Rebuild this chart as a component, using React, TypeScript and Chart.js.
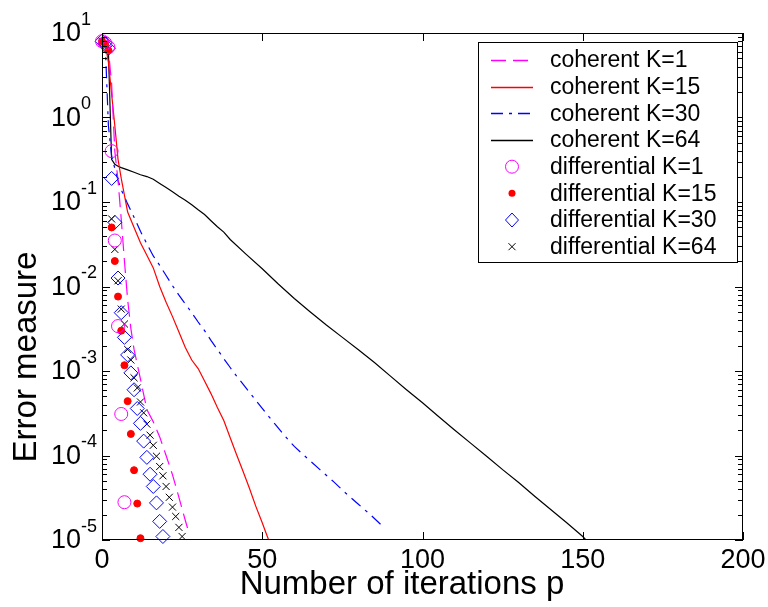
import React, { useEffect, useRef } from "react";
import { Chart, registerables } from "chart.js";

Chart.register(...registerables);

// ---------- data ----------
const xTickValues = [0, 50, 100, 150, 200];
const yDecades = [-5, -4, -3, -2, -1, 0, 1];
const xTitle = "Number of iterations p";
const yTitle = "Error measure";

const iterCohK1 = [0, 1, 2, 3, 4, 5, 6, 7, 8, 9, 10, 11, 12, 14, 16, 18, 20, 22, 24, 26, 27];
const errCohK1 = [8.0, 7.6, 6.3, 2.5, 0.4, 0.18, 0.063, 0.02, 0.007, 0.0032, 0.0018, 0.0012, 8e-4, 3.5e-4, 2.5e-4, 1.66e-4, 1.0e-4, 5.9e-5, 3.2e-5, 1.7e-5, 1.26e-5];

const iterCohK15 = [0, 1, 2, 3, 4, 5, 6, 8, 10, 12, 14, 16, 18, 20, 22, 24, 26, 28, 30, 32, 34, 36, 38, 40, 42, 44, 46, 48, 50, 51, 52];
const errCohK15 = [8.0, 7.6, 4.5, 1.9, 0.8, 0.32, 0.19, 0.076, 0.05, 0.033, 0.0234, 0.0166, 0.01, 0.0065, 0.0044, 0.0029, 0.0019, 0.00135, 0.00107, 7.6e-4, 5.4e-4, 3.7e-4, 2.6e-4, 1.62e-4, 1.02e-4, 6.5e-5, 4.1e-5, 2.5e-5, 1.6e-5, 1.26e-5, 1.0e-5];

const iterCohK30 = [0, 1, 2, 3, 4, 5, 6, 8, 10, 12, 14, 16, 18, 20, 22, 24, 26, 28, 30, 32, 34, 36, 38, 40, 42, 44, 46, 48, 50, 52, 54, 56, 58, 60, 64, 68, 72, 76, 80, 84, 88];
const errCohK30 = [8.0, 7.6, 0.8, 0.35, 0.25, 0.18, 0.14, 0.095, 0.066, 0.045, 0.032, 0.023, 0.0178, 0.0135, 0.0102, 0.0079, 0.0062, 0.0049, 0.0038, 0.003, 0.0023, 0.0018, 0.0014, 0.0011, 8.7e-4, 7.0e-4, 5.6e-4, 4.5e-4, 3.6e-4, 2.9e-4, 2.35e-4, 1.9e-4, 1.55e-4, 1.28e-4, 9.3e-5, 6.8e-5, 5.0e-5, 3.6e-5, 2.65e-5, 1.95e-5, 1.4e-5];

const iterCohK64 = [0, 1, 2, 3, 4, 5, 6, 8, 10, 12, 14, 16, 18, 20, 22, 24, 26, 28, 30, 32, 34, 36, 38, 40, 45, 50, 55, 60, 65, 70, 75, 80, 85, 90, 95, 100, 105, 110, 115, 120, 125, 130, 135, 140, 145, 150, 151];
const errCohK64 = [8.0, 7.8, 6.0, 0.32, 0.28, 0.265, 0.255, 0.24, 0.225, 0.21, 0.2, 0.186, 0.166, 0.148, 0.132, 0.117, 0.105, 0.093, 0.081, 0.071, 0.06, 0.051, 0.044, 0.036, 0.024, 0.0162, 0.0107, 0.0072, 0.0050, 0.0035, 0.0025, 0.00178, 0.00126, 8.7e-4, 6.0e-4, 4.2e-4, 2.9e-4, 2.0e-4, 1.4e-4, 9.8e-5, 6.8e-5, 4.8e-5, 3.3e-5, 2.3e-5, 1.6e-5, 1.1e-5, 1.0e-5];

const iterDiffK1 = [0, 1, 2, 3, 4, 5, 6, 7];
const errDiffK1 = [8.0, 7.6, 6.8, 0.4, 0.035, 0.0034, 3.1e-4, 2.8e-5];

const iterDiffK15 = [0, 1, 2, 3, 4, 5, 6, 7, 8, 9, 10, 11, 12];
const errDiffK15 = [8.0, 7.4, 6.2, 0.05, 0.02, 0.0076, 0.003, 0.00117, 4.4e-4, 1.8e-4, 6.7e-5, 2.7e-5, 1.05e-5];

const iterDiffK30 = [0, 1, 2, 3, 4, 5, 6, 7, 8, 9, 10, 11, 12, 13, 14, 15, 16, 17, 18, 19];
const errDiffK30 = [8.0, 7.6, 6.6, 0.19, 0.0575, 0.0126, 0.0049, 0.0025, 0.00155, 9.5e-4, 6.0e-4, 3.6e-4, 2.4e-4, 1.48e-4, 9.5e-5, 6.0e-5, 4.3e-5, 2.75e-5, 1.66e-5, 1.1e-5];

const iterDiffK64 = [0, 1, 2, 3, 4, 5, 6, 7, 8, 9, 10, 11, 12, 13, 14, 15, 16, 17, 18, 19, 20, 21, 22, 23, 24, 25];
const errDiffK64 = [8.0, 7.5, 6.4, 0.063, 0.0275, 0.0117, 0.0054, 0.0036, 0.0018, 0.00135, 8.3e-4, 6.3e-4, 4.3e-4, 3.2e-4, 2.35e-4, 1.74e-4, 1.32e-4, 9.8e-5, 7.4e-5, 5.75e-5, 4.3e-5, 3.2e-5, 2.45e-5, 1.9e-5, 1.41e-5, 1.1e-5];

const seriesLabels = [
  "coherent K=1",
  "coherent K=15",
  "coherent K=30",
  "coherent K=64",
  "differential K=1",
  "differential K=15",
  "differential K=30",
  "differential K=64",
];

// ---------- styling ----------
const FONT = "'Liberation Sans', Arial, Helvetica, sans-serif";
const TICK_SIZE = 27;
const SUP_SIZE = 18;
const TITLE_SIZE = 33;
const LEGEND_SIZE = 23;

const toPts = (xs: number[], ys: number[]) => xs.map((x, i) => ({ x, y: ys[i] }));

type LegendStyle = { kind: "line" | "marker"; color: string; dash: number[]; marker: string };
const legendStyles: LegendStyle[] = [
  { kind: "line", color: "#FF00FF", dash: [15, 7], marker: "" },
  { kind: "line", color: "#FF0000", dash: [], marker: "" },
  { kind: "line", color: "#0000FF", dash: [12, 6, 3, 6], marker: "" },
  { kind: "line", color: "#000000", dash: [], marker: "" },
  { kind: "marker", color: "#FF00FF", dash: [], marker: "circle" },
  { kind: "marker", color: "#FF0000", dash: [], marker: "dot" },
  { kind: "marker", color: "#0000FF", dash: [], marker: "diamond" },
  { kind: "marker", color: "#000000", dash: [], marker: "x" },
];

function drawMarker(ctx: CanvasRenderingContext2D, kind: string, color: string, x: number, y: number) {
  ctx.save();
  ctx.setLineDash([]);
  ctx.lineWidth = 1;
  ctx.strokeStyle = color;
  ctx.fillStyle = color;
  ctx.beginPath();
  if (kind === "circle") {
    ctx.arc(x, y, 6.5, 0, Math.PI * 2);
    ctx.stroke();
  } else if (kind === "dot") {
    ctx.arc(x, y, 3.5, 0, Math.PI * 2);
    ctx.fill();
  } else if (kind === "diamond") {
    ctx.moveTo(x - 6.5, y);
    ctx.lineTo(x, y - 7);
    ctx.lineTo(x + 6.5, y);
    ctx.lineTo(x, y + 7);
    ctx.closePath();
    ctx.stroke();
  } else if (kind === "x") {
    const r = 3.5;
    ctx.moveTo(x - r, y - r);
    ctx.lineTo(x + r, y + r);
    ctx.moveTo(x + r, y - r);
    ctx.lineTo(x - r, y + r);
    ctx.stroke();
  }
  ctx.restore();
}

const decorPlugin = {
  id: "matlabDecor",
  afterDraw(chart: any) {
    const { ctx, chartArea: ca } = chart;
    const xs = chart.scales.x;
    const ys = chart.scales.y;
    ctx.save();
    ctx.setLineDash([]);
    ctx.strokeStyle = "#000";
    ctx.lineWidth = 1;
    // axes box
    ctx.strokeRect(ca.left + 0.5, ca.top + 0.5, ca.right - ca.left - 1, ca.bottom - ca.top - 1);

    // x ticks
    ctx.beginPath();
    for (const v of xTickValues) {
      const px = Math.round(xs.getPixelForValue(v)) + 0.5;
      ctx.moveTo(px, ca.bottom);
      ctx.lineTo(px, ca.bottom - 8);
      ctx.moveTo(px, ca.top);
      ctx.lineTo(px, ca.top + 8);
    }
    // y ticks (major + minor)
    for (const k of yDecades) {
      const py = Math.round(ys.getPixelForValue(Math.pow(10, k))) + 0.5;
      ctx.moveTo(ca.left, py);
      ctx.lineTo(ca.left + 8, py);
      ctx.moveTo(ca.right, py);
      ctx.lineTo(ca.right - 8, py);
      if (k < 1) {
        for (let m = 2; m <= 9; m++) {
          const pm = Math.round(ys.getPixelForValue(m * Math.pow(10, k))) + 0.5;
          ctx.moveTo(ca.left, pm);
          ctx.lineTo(ca.left + 5, pm);
          ctx.moveTo(ca.right, pm);
          ctx.lineTo(ca.right - 5, pm);
        }
      }
    }
    ctx.stroke();

    // tick labels
    ctx.fillStyle = "#000";
    ctx.font = `${TICK_SIZE}px ${FONT}`;
    ctx.textAlign = "center";
    ctx.textBaseline = "middle";
    for (const v of xTickValues) {
      ctx.fillText(String(v), xs.getPixelForValue(v), ca.bottom + 21);
    }
    for (const k of yDecades) {
      const py = ys.getPixelForValue(Math.pow(10, k));
      ctx.font = `${TICK_SIZE}px ${FONT}`;
      ctx.textAlign = "right";
      ctx.fillText("10", ca.left - 21, py + 1);
      ctx.font = `${SUP_SIZE}px ${FONT}`;
      ctx.textAlign = "left";
      ctx.fillText(k < 0 ? "-" + Math.abs(k) : String(k), ca.left - 21, py - 13);
    }

    // axis titles
    ctx.font = `${TITLE_SIZE}px ${FONT}`;
    ctx.textAlign = "center";
    ctx.textBaseline = "middle";
    ctx.fillText(xTitle, ca.left + 300, ca.bottom + 45);
    ctx.save();
    ctx.translate(27, ca.top + 324);
    ctx.rotate(-Math.PI / 2);
    ctx.fillText(yTitle, 0, 0);
    ctx.restore();

    // legend
    const lx0 = ca.right - 265;
    const lx1 = ca.right - 6;
    const ly0 = ca.top + 9;
    const rowH = 26.67;
    const ly1 = ly0 + rowH * seriesLabels.length + 7;
    ctx.fillStyle = "#fff";
    ctx.fillRect(lx0, ly0, lx1 - lx0, ly1 - ly0);
    ctx.strokeStyle = "#000";
    ctx.strokeRect(Math.round(lx0) + 0.5, Math.round(ly0) + 0.5, Math.round(lx1 - lx0), Math.round(ly1 - ly0));
    ctx.font = `${LEGEND_SIZE}px ${FONT}`;
    ctx.textAlign = "left";
    ctx.textBaseline = "middle";
    for (let i = 0; i < seriesLabels.length; i++) {
      const st = legendStyles[i];
      const cy = ly0 + 18 + i * rowH;
      if (st.kind === "line") {
        ctx.save();
        ctx.lineWidth = 1.6;
        ctx.setLineDash(st.dash);
        ctx.strokeStyle = st.color;
        ctx.beginPath();
        ctx.moveTo(lx0 + 13, Math.round(cy) + 0.5);
        ctx.lineTo(lx0 + 55, Math.round(cy) + 0.5);
        ctx.stroke();
        ctx.restore();
      } else {
        drawMarker(ctx, st.marker, st.color, lx0 + 34, cy);
      }
      ctx.fillStyle = "#000";
      ctx.fillText(seriesLabels[i], lx0 + 72, cy + 1);
    }
    ctx.restore();
  },
};

export default function App() {
  const ref = useRef<HTMLCanvasElement>(null);
  useEffect(() => {
    const lineDs = (i: number, xs: number[], ys: number[]) => ({
      label: seriesLabels[i],
      data: toPts(xs, ys),
      showLine: true,
      borderColor: legendStyles[i].color,
      backgroundColor: legendStyles[i].color,
      borderWidth: 1.2,
      borderDash: legendStyles[i].dash.slice(),
      pointRadius: 0,
      tension: 0,
      order: 2,
    });
    const markerDs = (i: number, xs: number[], ys: number[], style: string, radius: number, filled: boolean) => ({
      label: seriesLabels[i],
      data: toPts(xs, ys),
      showLine: false,
      borderColor: legendStyles[i].color,
      backgroundColor: filled ? legendStyles[i].color : "rgba(0,0,0,0)",
      pointStyle: style,
      pointRadius: radius,
      pointBorderWidth: 1,
      clip: false,
      order: 1,
    });
    const chart = new Chart(ref.current!, {
      type: "scatter",
      data: {
        datasets: [
          lineDs(0, iterCohK1, errCohK1),
          lineDs(1, iterCohK15, errCohK15),
          lineDs(2, iterCohK30, errCohK30),
          lineDs(3, iterCohK64, errCohK64),
          markerDs(4, iterDiffK1, errDiffK1, "circle", 6.5, false),
          markerDs(5, iterDiffK15, errDiffK15, "circle", 3.5, true),
          markerDs(6, iterDiffK30, errDiffK30, "rectRot", 7, false),
          markerDs(7, iterDiffK64, errDiffK64, "crossRot", 5, false),
        ] as any,
      },
      options: {
        animation: false,
        responsive: false,
        devicePixelRatio: 1,
        layout: { padding: { top: 33, right: 25, bottom: 0, left: 0 } },
        plugins: { legend: { display: false }, tooltip: { enabled: false } },
        scales: {
          x: {
            type: "linear",
            min: 0,
            max: 200,
            grid: { display: false, drawTicks: false },
            border: { display: false },
            ticks: { display: false },
            title: { display: false },
            afterFit: (s: any) => {
              s.height = 67;
            },
          },
          y: {
            type: "logarithmic",
            min: 1e-5,
            max: 10,
            grid: { display: false, drawTicks: false },
            border: { display: false },
            ticks: { display: false },
            title: { display: false },
            afterFit: (s: any) => {
              s.width = 102;
            },
          },
        },
      } as any,
      plugins: [decorPlugin],
    });
    return () => chart.destroy();
  }, []);
  return (
    <div style={{ position: "absolute", left: 0, top: 0, width: 768, height: 607, background: "#fff" }}>
      <canvas ref={ref} width={768} height={607} style={{ display: "block", width: 768, height: 607 }} />
    </div>
  );
}
